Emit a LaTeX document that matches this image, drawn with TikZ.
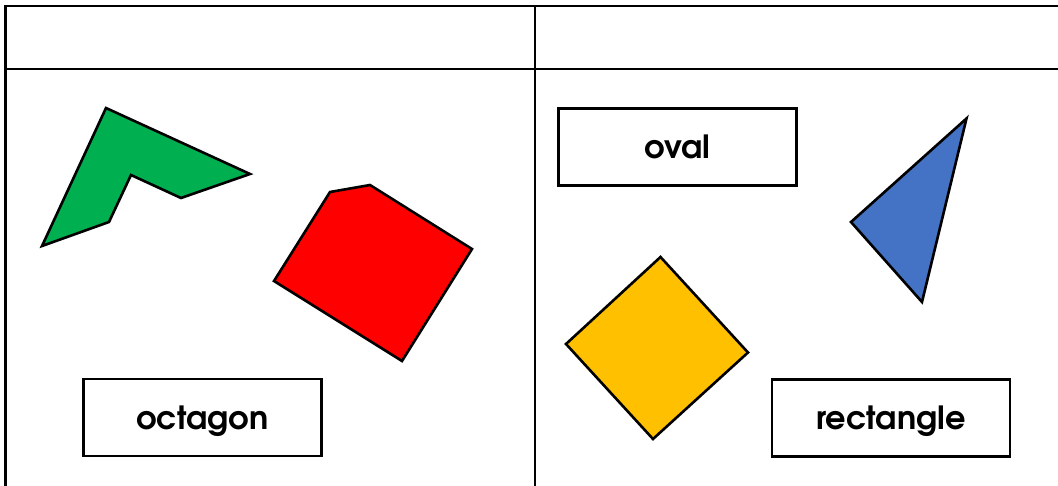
\documentclass[tikz,border=0pt]{standalone}
\usepackage{fontspec}
\setmainfont{TeX Gyre Adventor}
\definecolor{shapegreen}{RGB}{0,176,80}
\definecolor{shapered}{RGB}{255,0,0}
\definecolor{shapeyellow}{RGB}{255,192,0}
\definecolor{shapeblue}{RGB}{68,114,196}

\begin{document}
\begin{tikzpicture}[x=1pt, y=-1pt,
    grid/.style={line width=2.6pt, line cap=rect},
    piece/.style={draw=black, line width=2.6pt, line join=miter},
    namebox/.style={draw=black, line width=2.4pt, minimum width=238pt, minimum height=77pt,
      inner sep=0pt, text height=23pt, text depth=0pt,
      font=\fontsize{32}{38}\selectfont\bfseries}]
  \useasboundingbox (0,0) rectangle (1058,485);
  % the table: header row and two columns
  \draw[grid] (1058,6) -- (5.5,6) -- (5.5,485);
  \draw[grid] (5.5,69) -- (1058,69);
  \draw[grid] (535,6) -- (535,485);

  % left cell
  \filldraw[piece, fill=shapegreen] (106,108) -- (250,174) -- (181,198) -- (131,175)
    -- (109,222) -- (42,246) -- cycle;
  \filldraw[piece, fill=shapered] (330,192) -- (370,185) -- (472,249) -- (402,361)
    -- (274,281) -- cycle;
  \node[namebox] (octagon) at (202.5,417.5) {octagon};

  % right cell
  \node[namebox] (oval) at (677.5,147) {oval};
  \filldraw[piece, fill=shapeblue] (966.5,118.5) -- (922,302) -- (851,222) -- cycle;
  \filldraw[piece, fill=shapeyellow] (660.5,257) -- (748,352.5) -- (653,439) -- (566,344) -- cycle;
  \node[namebox] (rectangle) at (891,418) {rectangle};
\end{tikzpicture}
\end{document}
